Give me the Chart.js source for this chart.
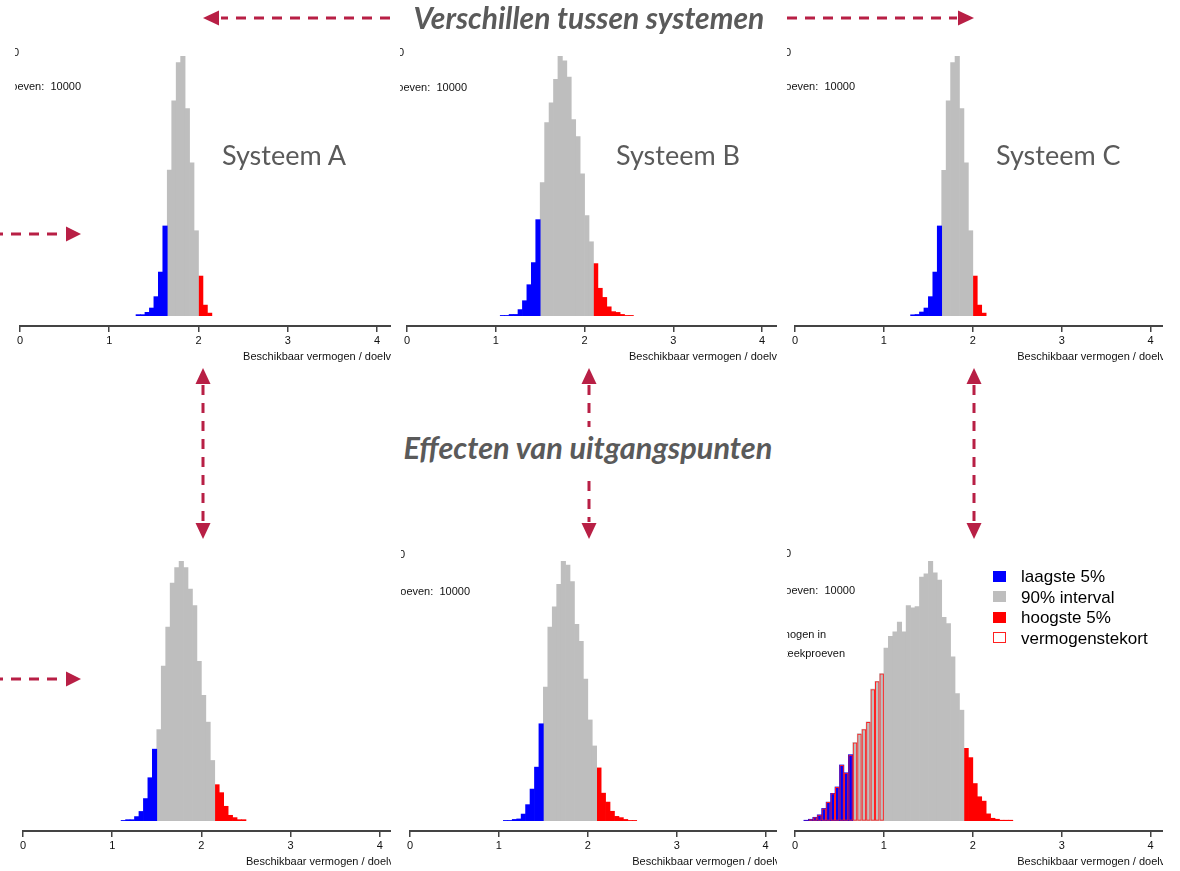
<!DOCTYPE html>
<html><head><meta charset="utf-8">
<script src="https://cdn.jsdelivr.net/npm/chart.js@4.4.1/dist/chart.umd.min.js"></script>
<style>
html,body{margin:0;padding:0;background:#fff;}
body{width:1180px;height:871px;position:relative;overflow:hidden;font-family:"Liberation Sans",Arial,sans-serif;}
canvas.panel{position:absolute;}
.hdr{position:absolute;font-family:Lato,"Open Sans",sans-serif;font-style:italic;font-weight:700;color:#5a5a5a;line-height:1;white-space:nowrap;}
.sys{position:absolute;font-family:Lato,"Open Sans",sans-serif;color:#5a5a5a;font-size:27px;line-height:1;white-space:nowrap;}
.clip{position:absolute;overflow:hidden;height:14px;}
.clip span{position:absolute;right:0;top:0;white-space:pre;font-size:11px;line-height:14px;color:#111;}
.lgbox{position:absolute;width:13px;height:11px;box-sizing:border-box;}
.lgtxt{position:absolute;font-size:17px;line-height:1;color:#000;white-space:nowrap;}
svg{position:absolute;left:0;top:0;}
</style>
</head><body>
<canvas id="pA" class="panel"></canvas>
<canvas id="pB" class="panel"></canvas>
<canvas id="pC" class="panel"></canvas>
<canvas id="pD" class="panel"></canvas>
<canvas id="pE" class="panel"></canvas>
<canvas id="pF" class="panel"></canvas>

<div class="hdr" id="h1" style="font-size:30px">Verschillen tussen systemen</div>
<div class="hdr" id="h2" style="font-size:30.7px">Effecten van uitgangspunten</div>
<div class="sys" style="left:222px;top:141px">Systeem A</div>
<div class="sys" style="left:616px;top:141px">Systeem B</div>
<div class="sys" style="left:996px;top:141px">Systeem C</div>

<div class="clip" style="left:15px;top:45px;width:4px"><span>0</span></div>
<div class="clip" style="left:400px;top:45px;width:4px"><span>0</span></div>
<div class="clip" style="left:787px;top:45px;width:4px"><span>0</span></div>
<div class="clip" style="left:401px;top:547px;width:4px"><span>0</span></div>
<div class="clip" style="left:787px;top:546px;width:4px"><span>0</span></div>

<div class="clip" style="left:15px;top:79px;width:66px"><span>Aantal steekproeven:  10000</span></div>
<div class="clip" style="left:400px;top:80px;width:67px"><span>Aantal steekproeven:  10000</span></div>
<div class="clip" style="left:787px;top:79px;width:68px"><span>Aantal steekproeven:  10000</span></div>
<div class="clip" style="left:401px;top:584px;width:69px"><span>Aantal steekproeven:  10000</span></div>
<div class="clip" style="left:787px;top:583px;width:68px"><span>Aantal steekproeven:  10000</span></div>
<div class="clip" style="left:787px;top:627px;width:39px"><span>Tekort aan vermogen in</span></div>
<div class="clip" style="left:787px;top:646px;width:58px"><span>% van de steekproeven</span></div>

<div id="legend"></div>

<svg width="1180" height="871">
 <g stroke="#B81F45" stroke-width="3" stroke-dasharray="10 8" fill="none">
  <line x1="390" y1="18" x2="221" y2="18"/>
  <line x1="787" y1="18" x2="957" y2="18"/>
  <line x1="57" y1="234" x2="-10" y2="234"/>
  <line x1="57" y1="679" x2="-10" y2="679"/>
  <line x1="203" y1="385" x2="203" y2="522"/>
  <line x1="974" y1="385" x2="974" y2="522"/>
  <line x1="589" y1="385" x2="589" y2="427"/>
  <line x1="589" y1="481" x2="589" y2="522"/>
 </g>
 <g fill="#B81F45">
  <polygon points="203,18 219,10.5 219,25.5"/>
  <polygon points="974,18 958,10.5 958,25.5"/>
  <polygon points="81,234 66,226.5 66,241.5"/>
  <polygon points="81,679 66,671.5 66,686.5"/>
  <polygon points="203,368 195.5,384 210.5,384"/>
  <polygon points="203,539 195.5,523 210.5,523"/>
  <polygon points="589,368 581.5,384 596.5,384"/>
  <polygon points="589,539 581.5,523 596.5,523"/>
  <polygon points="974,368 966.5,384 981.5,384"/>
  <polygon points="974,539 966.5,523 981.5,523"/>
 </g>
</svg>

<script>
// ---------- data (counts per bin of width 0.05, out of 10000 draws) ----------
const BIN_WIDTH = 0.05;
const xTicks = [0, 1, 2, 3, 4];
const xTitle = 'Beschikbaar vermogen / doelvermogen';
const SHORTFALL_LIMIT = 1.0;

const legendLabels = ['laagste 5%', '90% interval', 'hoogste 5%', 'vermogenstekort'];

// Systeem A (top left)
const aStart = 1.30;
const aLow  = [7, 7, 22, 50, 124, 284, 584];
const aMid  = [948, 1398, 1647, 1690, 1348, 994, 553];
const aHigh = [258, 69, 17];

// Systeem B (top middle)
const bStart = 1.05;
const bLow  = [1, 1, 5, 5, 24, 59, 122, 209, 378];
const bMid  = [524, 760, 838, 930, 1022, 1003, 939, 772, 705, 558, 394, 291];
const bHigh = [205, 108, 72, 35, 16, 13, 5, 1, 1];

// Systeem C (top right)
const cStart = 1.30;
const cLow  = [6, 8, 24, 50, 124, 284, 584];
const cMid  = [946, 1398, 1647, 1690, 1348, 994, 553];
const cHigh = [258, 69, 17];

// Uitgangspunt-variant A (bottom left)
const dStart = 1.10;
const dLow  = [1, 4, 4, 16, 36, 86, 167, 278];
const dMid  = [354, 601, 752, 923, 983, 1009, 983, 900, 836, 619, 487, 383, 234];
const dHigh = [140, 109, 56, 21, 12, 4, 4];

// Uitgangspunt-variant B (bottom middle)
const eStart = 1.05;
const eLow  = [1, 1, 5, 7, 26, 63, 124, 210, 380];
const eMid  = [524, 759, 838, 927, 1018, 1002, 937, 770, 703, 555, 395, 293];
const eHigh = [207, 108, 73, 37, 17, 12, 5, 1, 1];

// Uitgangspunt-variant C (bottom right)
const fStart = 0.10;
const fLow  = [1, 3, 7, 12, 25, 38, 56, 69, 114, 98, 135];
const fMid  = [160, 178, 187, 202, 269, 285, 301, 353, 377, 386, 406, 386, 440, 435, 438, 498, 505, 531, 507, 492, 416, 403, 335, 260, 226];
const fHigh = [148, 129, 76, 49, 40, 14, 5, 3, 1, 1, 1];

// ---------- styles ----------
const COL_LOW = '#0000FF', COL_MID = '#BEBEBE', COL_HIGH = '#FF0000';

// ---------- layout of the six panels ----------
const layouts = {
  pA: {left: 10,  top: 0,   w: 381, h: 370, padTop: 56, axisH: 44, xMax: 4.157},
  pB: {left: 397, top: 0,   w: 380, h: 370, padTop: 56, axisH: 44, xMax: 4.167},
  pC: {left: 785, top: 0,   w: 378, h: 370, padTop: 56, axisH: 44, xMax: 4.139},
  pD: {left: 13,  top: 500, w: 378, h: 371, padTop: 61, axisH: 40, xMax: 4.126},
  pE: {left: 400, top: 500, w: 377, h: 371, padTop: 61, axisH: 40, xMax: 4.128},
  pF: {left: 785, top: 500, w: 378, h: 371, padTop: 61, axisH: 40, xMax: 4.139}
};

function series(start, offset, counts) {
  return counts.map((c, i) => ({x: +(start + (offset + i + 0.5) * BIN_WIDTH).toFixed(4), y: c}));
}

const axisTitlePlugin = {
  id: 'axisTitle',
  afterDraw(chart) {
    const {ctx, chartArea} = chart;
    const x = chart.scales.x;
    ctx.save();
    ctx.font = '11px "Liberation Sans", Arial, sans-serif';
    ctx.fillStyle = '#111';
    ctx.textAlign = 'left';
    ctx.textBaseline = 'middle';
    ctx.fillText(xTitle, x.getPixelForValue(2.5), chartArea.bottom + 31);
    ctx.restore();
  }
};

function makePanel(id, start, low, mid, high, withShortfall) {
  const L = layouts[id];
  const cv = document.getElementById(id);
  cv.width = L.w; cv.height = L.h;
  cv.style.left = L.left + 'px'; cv.style.top = L.top + 'px';
  cv.style.width = L.w + 'px'; cv.style.height = L.h + 'px';
  const lowData = series(start, 0, low);
  const midData = series(start, low.length, mid);
  const highData = series(start, low.length + mid.length, high);
  const peak = Math.max(...low, ...mid, ...high);
  const common = {grouped: false, barPercentage: 1, categoryPercentage: 1, borderWidth: 0, order: 1};
  const datasets = [
    Object.assign({label: legendLabels[0], data: lowData, backgroundColor: COL_LOW}, common),
    Object.assign({label: legendLabels[1], data: midData, backgroundColor: COL_MID}, common),
    Object.assign({label: legendLabels[2], data: highData, backgroundColor: COL_HIGH}, common)
  ];
  if (withShortfall) {
    const sf = lowData.concat(midData).filter(p => p.x < SHORTFALL_LIMIT).map(p => ({x: p.x, y: p.y}));
    // drawn on top of the filled bars (lowest order is painted last)
    datasets.push({label: legendLabels[3], data: sf, backgroundColor: 'rgba(0,0,0,0)',
      borderColor: '#FF2020', borderWidth: 1, borderSkipped: false, grouped: false,
      barPercentage: 1, categoryPercentage: 1, inflateAmount: 0, order: 0});
  }
  new Chart(cv, {
    type: 'bar',
    data: {datasets},
    options: {
      responsive: false, animation: false, devicePixelRatio: 1,
      layout: {padding: {left: 10, right: 0, top: L.padTop, bottom: 0}},
      plugins: {legend: {display: false}, tooltip: {enabled: false}},
      scales: {
        x: {
          type: 'linear', min: 0, max: L.xMax, offset: false,
          afterBuildTicks: s => { s.ticks = xTicks.map(v => ({value: v})); },
          afterFit: s => { s.height = L.axisH; },
          grid: {offset: false, drawOnChartArea: false, drawTicks: true, tickLength: 6, color: '#444', lineWidth: 1.5},
          border: {display: true, color: '#444', width: 2},
          ticks: {font: {family: '"Liberation Sans", Arial, sans-serif', size: 11}, color: '#111', padding: 2, maxRotation: 0, autoSkip: false}
        },
        y: {display: false, min: -peak * 10.3 / 259.7, max: peak}
      }
    },
    plugins: [axisTitlePlugin]
  });
}

makePanel('pA', aStart, aLow, aMid, aHigh, false);
makePanel('pB', bStart, bLow, bMid, bHigh, false);
makePanel('pC', cStart, cLow, cMid, cHigh, false);
makePanel('pD', dStart, dLow, dMid, dHigh, false);
makePanel('pE', eStart, eLow, eMid, eHigh, false);
makePanel('pF', fStart, fLow, fMid, fHigh, true);

// headers centred
function centre(id, cx, top) {
  const el = document.getElementById(id);
  el.style.top = top + 'px';
  el.style.left = (cx - el.offsetWidth / 2) + 'px';
}
centre('h1', 589, 2);
centre('h2', 588, 433);

// legend for bottom-right panel
const lg = document.getElementById('legend');
const lgFills = [COL_LOW, COL_MID, COL_HIGH, '#FFFFFF'];
const lgTops = [570.5, 591, 611.5, 632];
legendLabels.forEach((t, i) => {
  const b = document.createElement('div');
  b.className = 'lgbox';
  b.style.left = '993px'; b.style.top = lgTops[i] + 'px';
  b.style.background = lgFills[i];
  if (i === 3) b.style.border = '1px solid #FF2020';
  lg.appendChild(b);
  const s = document.createElement('div');
  s.className = 'lgtxt';
  s.style.left = '1021px'; s.style.top = (lgTops[i] - 2.5) + 'px';
  s.textContent = t;
  lg.appendChild(s);
});
</script>
</body></html>
